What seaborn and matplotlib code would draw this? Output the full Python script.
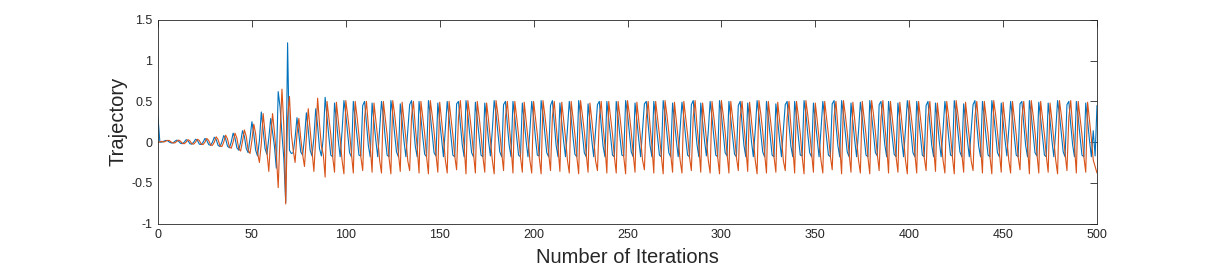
import matplotlib
matplotlib.use("Agg")
import matplotlib.pyplot as plt
import seaborn as sns
import pandas as pd
from matplotlib.ticker import FuncFormatter

# values, one per iteration
# start of the run (iterations 0-88): small wobble that grows, blow-up near 69
blue_start = [
    0.30, 0.00, 0.00, 0.01, 0.02, 0.02, 0.00, -0.01, -0.01, 0.01,
    0.025, 0.01, -0.015, -0.02, 0.00, 0.03, 0.015, -0.02, -0.025, 0.00,
    0.035, 0.02, -0.025, -0.03, 0.00, 0.045, 0.02, -0.03, -0.04, 0.00,
    0.06, 0.03, -0.04, -0.055, 0.00, 0.08, 0.04, -0.05, -0.07, 0.00,
    0.11, 0.05, -0.07, -0.10, 0.00, 0.14, 0.07, -0.08, -0.13, 0.05,
    0.25, 0.10, -0.10, -0.17, 0.02, 0.37, 0.15, -0.08, -0.15, 0.05,
    0.29, 0.12, -0.05, -0.32, 0.62, 0.43, 0.10, -0.20, -0.74, 1.22,
    -0.10, -0.14, -0.13, 0.05, 0.30, 0.10, -0.12, -0.16, 0.05, 0.36,
    0.15, -0.10, -0.17, 0.05, 0.41, 0.20, -0.08, -0.17, 0.05,
]
orange_start = [
    0.00, 0.00, 0.01, 0.00, 0.01, 0.02, 0.02, 0.00, -0.01, -0.01,
    0.01, 0.025, 0.01, -0.015, -0.02, 0.00, 0.03, 0.015, -0.02, -0.025,
    0.00, 0.035, 0.02, -0.025, -0.03, 0.00, 0.045, 0.02, -0.035, -0.04,
    0.00, 0.065, 0.03, -0.045, -0.055, 0.00, 0.085, 0.04, -0.06, -0.075,
    0.00, 0.11, 0.05, -0.08, -0.11, 0.01, 0.15, 0.07, -0.10, -0.14,
    0.02, 0.22, 0.10, -0.13, -0.25, -0.02, 0.35, 0.12, -0.12, -0.36,
    0.05, 0.35, 0.12, -0.15, -0.56, 0.10, 0.65, 0.20, -0.76, 0.30,
    0.56, 0.10, -0.10, -0.25, 0.10, 0.29, 0.05, -0.15, -0.30, 0.05,
    0.41, 0.15, -0.10, -0.36, 0.05, 0.54, 0.22, -0.05, -0.15,
]

# settled oscillation (iterations 89-498), one line = one swing of ~5 steps
blue_steady = [
    0.55, 0.30, 0.06, -0.16, -0.18,  0.48, 0.27, 0.02, -0.18, 0.13,
    0.51, 0.34, 0.11, -0.13, -0.18,  0.50, 0.29, 0.07, -0.16, -0.17,
    0.45, 0.50, 0.23, -0.04, -0.18,  0.48, 0.25, 0.02, -0.18, 0.15,
    0.50, 0.31, 0.05, -0.16, -0.18,  0.51, 0.35, 0.10, -0.12, -0.18,
    0.47, 0.26, 0.01, -0.18, 0.14,  0.46, 0.51, 0.21, -0.05, -0.18,
    0.50, 0.30, 0.06, -0.15, -0.18,  0.51, 0.33, 0.10, -0.13, -0.17,
    0.48, 0.26, 0.03, -0.18, 0.16,  0.50, 0.30, 0.07, -0.16, -0.18,
    0.47, 0.50, 0.22, -0.03, -0.18,  0.51, 0.34, 0.09, -0.13, -0.18,
    0.49, 0.29, 0.06, -0.16, -0.18,  0.48, 0.27, 0.02, -0.17, 0.14,
    0.51, 0.35, 0.11, -0.12, -0.18,  0.46, 0.50, 0.22, -0.04, -0.18,
    0.50, 0.31, 0.06, -0.16, -0.18,  0.48, 0.26, 0.02, -0.18, 0.13,
    0.50, 0.30, 0.05, -0.16, -0.17,  0.51, 0.34, 0.10, -0.13, -0.18,
    0.45, 0.51, 0.23, -0.04, -0.18,  0.48, 0.25, 0.01, -0.18, 0.15,
    0.50, 0.30, 0.06, -0.15, -0.18,  0.51, 0.33, 0.10, -0.13, -0.18,
    0.47, 0.26, 0.02, -0.18, 0.14,  0.46, 0.50, 0.21, -0.05, -0.18,
    0.50, 0.29, 0.07, -0.16, -0.18,  0.50, 0.30, 0.06, -0.16, -0.17,
    0.51, 0.35, 0.11, -0.12, -0.18,  0.48, 0.27, 0.03, -0.18, 0.14,
    0.47, 0.50, 0.22, -0.04, -0.18,  0.50, 0.31, 0.06, -0.16, -0.18,
    0.51, 0.34, 0.10, -0.13, -0.18,  0.48, 0.26, 0.02, -0.18, 0.15,
    0.49, 0.30, 0.05, -0.16, -0.18,  0.46, 0.51, 0.22, -0.03, -0.18,
    0.48, 0.25, 0.02, -0.17, 0.13,  0.50, 0.30, 0.06, -0.16, -0.18,
    0.51, 0.34, 0.11, -0.13, -0.17,  0.50, 0.29, 0.06, -0.15, -0.18,
    0.45, 0.50, 0.23, -0.04, -0.18,  0.48, 0.27, 0.01, -0.18, 0.14,
    0.51, 0.33, 0.10, -0.12, -0.18,  0.50, 0.30, 0.07, -0.16, -0.18,
    0.47, 0.26, 0.02, -0.18, 0.15,  0.46, 0.50, 0.21, -0.05, -0.18,
    0.50, 0.31, 0.06, -0.16, -0.17,  0.51, 0.35, 0.10, -0.13, -0.18,
    0.48, 0.26, 0.03, -0.18, 0.14,  0.50, 0.30, 0.05, -0.16, -0.18,
    0.47, 0.51, 0.22, -0.04, -0.18,  0.51, 0.34, 0.11, -0.12, -0.18,
    0.48, 0.25, 0.02, -0.18, 0.13,  0.49, 0.30, 0.06, -0.16, -0.18,
    0.51, 0.33, 0.10, -0.13, -0.17,  0.46, 0.50, 0.22, -0.03, -0.18,
    0.50, 0.29, 0.06, -0.15, -0.18,  0.48, 0.27, 0.02, -0.18, 0.15,
    0.51, 0.34, 0.10, -0.13, -0.18,  0.50, 0.30, 0.07, -0.16, -0.18,
    0.45, 0.50, 0.23, -0.04, -0.18,  0.48, 0.26, 0.01, -0.18, 0.14,
    0.50, 0.31, 0.06, -0.16, -0.17,  0.51, 0.35, 0.11, -0.12, -0.18,
    0.47, 0.26, 0.02, -0.18, 0.14,  0.46, 0.51, 0.21, -0.05, -0.18,
    0.50, 0.30, 0.05, -0.16, -0.18,  0.51, 0.34, 0.10, -0.13, -0.18,
    0.48, 0.25, 0.03, -0.17, 0.15,  0.50, 0.30, 0.06, -0.16, -0.18,
    0.47, 0.50, 0.22, -0.04, -0.18,  0.51, 0.33, 0.10, -0.13, -0.17,
    0.49, 0.29, 0.07, -0.16, -0.18,  0.48, 0.27, 0.02, -0.18, 0.13,
    0.51, 0.34, 0.11, -0.12, -0.18,  0.46, 0.50, 0.22, -0.03, -0.18,
    0.50, 0.30, 0.06, -0.16, -0.18,  0.48, 0.26, 0.02, -0.18, 0.14,
]
orange_steady = [
    -0.43, 0.50, 0.30, 0.09, -0.18,  -0.37, 0.49, 0.27, 0.04, -0.22,
    -0.39, 0.51, 0.33, 0.12, -0.14,  -0.38, 0.50, 0.31, 0.08, -0.18,
    -0.35, 0.30, 0.50, 0.20, -0.05,  -0.37, 0.48, 0.27, 0.05, -0.22,
    -0.38, 0.50, 0.29, 0.09, -0.19,  -0.39, 0.51, 0.34, 0.12, -0.14,
    -0.36, 0.49, 0.26, 0.04, -0.23,  -0.35, 0.31, 0.50, 0.19, -0.06,
    -0.38, 0.50, 0.30, 0.10, -0.18,  -0.39, 0.51, 0.33, 0.13, -0.15,
    -0.37, 0.49, 0.27, 0.04, -0.22,  -0.38, 0.50, 0.30, 0.09, -0.17,
    -0.34, 0.30, 0.51, 0.20, -0.05,  -0.39, 0.51, 0.33, 0.12, -0.14,
    -0.38, 0.50, 0.31, 0.09, -0.18,  -0.37, 0.48, 0.27, 0.03, -0.22,
    -0.39, 0.51, 0.34, 0.12, -0.13,  -0.35, 0.30, 0.50, 0.21, -0.05,
    -0.38, 0.50, 0.30, 0.08, -0.18,  -0.37, 0.49, 0.26, 0.04, -0.22,
    -0.38, 0.50, 0.30, 0.09, -0.19,  -0.39, 0.51, 0.33, 0.12, -0.14,
    -0.35, 0.31, 0.50, 0.20, -0.06,  -0.36, 0.49, 0.27, 0.05, -0.22,
    -0.38, 0.50, 0.29, 0.09, -0.18,  -0.39, 0.51, 0.33, 0.13, -0.14,
    -0.37, 0.48, 0.27, 0.04, -0.23,  -0.35, 0.30, 0.50, 0.19, -0.05,
    -0.38, 0.50, 0.30, 0.10, -0.18,  -0.38, 0.50, 0.31, 0.09, -0.18,
    -0.39, 0.51, 0.34, 0.12, -0.14,  -0.37, 0.49, 0.27, 0.04, -0.22,
    -0.34, 0.30, 0.50, 0.20, -0.05,  -0.38, 0.50, 0.30, 0.09, -0.17,
    -0.39, 0.51, 0.33, 0.12, -0.15,  -0.37, 0.49, 0.26, 0.03, -0.22,
    -0.38, 0.50, 0.30, 0.09, -0.18,  -0.35, 0.31, 0.51, 0.20, -0.05,
    -0.37, 0.48, 0.27, 0.04, -0.22,  -0.38, 0.50, 0.30, 0.08, -0.18,
    -0.39, 0.51, 0.33, 0.12, -0.14,  -0.38, 0.50, 0.29, 0.09, -0.19,
    -0.35, 0.30, 0.50, 0.21, -0.06,  -0.36, 0.49, 0.27, 0.04, -0.22,
    -0.39, 0.51, 0.34, 0.13, -0.14,  -0.38, 0.50, 0.30, 0.09, -0.18,
    -0.37, 0.49, 0.26, 0.05, -0.23,  -0.35, 0.30, 0.50, 0.20, -0.05,
    -0.38, 0.50, 0.31, 0.10, -0.18,  -0.39, 0.51, 0.33, 0.12, -0.13,
    -0.37, 0.48, 0.27, 0.04, -0.22,  -0.38, 0.50, 0.30, 0.09, -0.17,
    -0.34, 0.31, 0.50, 0.19, -0.05,  -0.39, 0.51, 0.33, 0.12, -0.14,
    -0.37, 0.49, 0.27, 0.03, -0.22,  -0.38, 0.50, 0.30, 0.09, -0.18,
    -0.39, 0.51, 0.34, 0.12, -0.15,  -0.35, 0.30, 0.51, 0.20, -0.05,
    -0.38, 0.50, 0.29, 0.08, -0.18,  -0.37, 0.49, 0.27, 0.04, -0.22,
    -0.39, 0.51, 0.33, 0.13, -0.14,  -0.38, 0.50, 0.30, 0.09, -0.19,
    -0.35, 0.30, 0.50, 0.20, -0.06,  -0.36, 0.48, 0.26, 0.04, -0.22,
    -0.38, 0.50, 0.31, 0.09, -0.18,  -0.39, 0.51, 0.33, 0.12, -0.14,
    -0.37, 0.49, 0.27, 0.05, -0.23,  -0.35, 0.31, 0.50, 0.21, -0.05,
    -0.38, 0.50, 0.30, 0.10, -0.18,  -0.39, 0.51, 0.34, 0.12, -0.13,
    -0.37, 0.49, 0.27, 0.04, -0.22,  -0.38, 0.50, 0.30, 0.09, -0.18,
    -0.34, 0.30, 0.50, 0.19, -0.05,  -0.39, 0.51, 0.33, 0.12, -0.14,
    -0.38, 0.50, 0.29, 0.09, -0.17,  -0.37, 0.48, 0.27, 0.03, -0.22,
    -0.39, 0.51, 0.33, 0.12, -0.14,  -0.35, 0.30, 0.51, 0.20, -0.05,
    -0.38, 0.50, 0.30, 0.09, -0.18,  -0.37, 0.49, 0.26, 0.04, -0.22,
]

# last two iterations (499, 500)
blue_end = [-0.17, 0.45]
orange_end = [-0.30, -0.38]

blue = blue_start + blue_steady + blue_end
orange = orange_start + orange_steady + orange_end
iters = list(range(len(blue)))

df = pd.DataFrame({"Iteration": iters, "x1": blue, "x2": orange})

sns.set_style("white")
plt.rcParams["font.family"] = ["Liberation Sans", "DejaVu Sans"]

text_col = "#262626"
fig = plt.figure(figsize=(12.13, 2.71), dpi=100)
ax = fig.add_axes([158 / 1213, 1 - 223.5 / 271, (1097 - 158) / 1213, (223.5 - 20) / 271])

sns.lineplot(data=df, x="Iteration", y="x1", ax=ax, color="#0072BD", linewidth=0.8)
sns.lineplot(data=df, x="Iteration", y="x2", ax=ax, color="#D95319", linewidth=0.8)

ax.set_xlim(0, 500)
ax.set_ylim(-1, 1.5)
ax.set_xticks(range(0, 501, 50))
ax.set_yticks([-1, -0.5, 0, 0.5, 1, 1.5])
ax.yaxis.set_major_formatter(FuncFormatter(lambda v, p: f"{v:g}"))

ax.tick_params(direction="in", length=5, width=0.6, top=True, right=True,
               labelsize=9, colors=text_col, pad=4)
for s in ax.spines.values():
    s.set_visible(True)
    s.set_color(text_col)
    s.set_linewidth(0.6)

ax.set_xlabel("Number of Iterations", fontsize=14.5, color=text_col, labelpad=5)
ax.set_ylabel("Trajectory", fontsize=14.5, color=text_col, labelpad=3)

fig.savefig("out.png", dpi=100)
